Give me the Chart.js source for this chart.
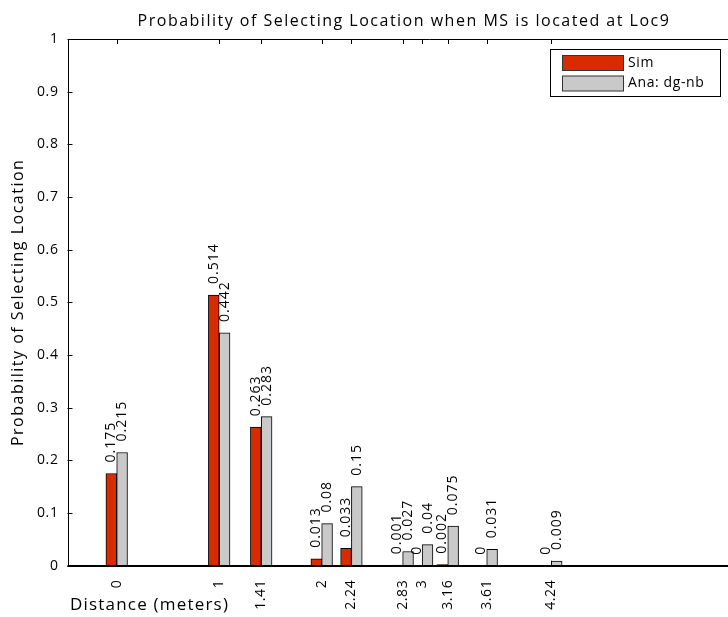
<!DOCTYPE html>
<html>
<head>
<meta charset="utf-8">
<script src="https://cdn.jsdelivr.net/npm/chart.js@4/dist/chart.umd.min.js"></script>
<style>
html,body{margin:0;padding:0;background:#fff;overflow:hidden;width:728px;height:617px;}
#wrap{position:relative;width:800px;height:617px;}
canvas{display:block;}
</style>
</head>
<body>
<div id="wrap"><canvas id="c" width="800" height="617"></canvas></div>
<script>
// bar/tick positions along the distance axis
const positions = [0, 1, 1.41, 2, 2.29, 2.79, 2.98, 3.23, 3.61, 4.24];
const tickLabels = ['0', '1', '1.41', '2', '2.24', '2.83', '3', '3.16', '3.61', '4.24'];
const simValues = [0.175, 0.514, 0.263, 0.013, 0.033, 0.001, 0, 0.002, 0, 0];
const anaValues = [0.215, 0.442, 0.283, 0.08, 0.15, 0.027, 0.04, 0.075, 0.031, 0.009];
const seriesNames = ['Sim', 'Ana: dg-nb'];
const titleText = 'Probability of Selecting Location when MS is located at Loc9';
const xTitle = 'Distance (meters)';
const yTitle = 'Probability of Selecting Location';

const FONT = '"Open Sans", "DejaVu Sans", sans-serif';

const decorPlugin = {
  id: 'decor',
  beforeLayout(chart) { chart.ctx.letterSpacing = '0.6px'; },
  beforeDraw(chart) { chart.ctx.letterSpacing = '0.6px'; },
  beforeDatasetsDraw(chart) {
    const {ctx, chartArea: a, scales: {x, y}} = chart;
    ctx.save();
    ctx.strokeStyle = '#000';
    ctx.lineWidth = 1;
    ctx.beginPath();
    for (let v = 0; v <= 10; v++) {
      const py = Math.round(y.getPixelForValue(v / 10)) + 0.5;
      ctx.moveTo(a.left, py); ctx.lineTo(a.left + 5, py);
    }
    positions.forEach(d => {
      const px = Math.round(x.getPixelForValue(d)) + 0.5;
      ctx.moveTo(px, a.top); ctx.lineTo(px, a.top + 5);
      ctx.moveTo(px, a.bottom); ctx.lineTo(px, a.bottom - 5);
    });
    ctx.stroke();
    ctx.beginPath();
    ctx.moveTo(Math.round(a.left) + 0.5, a.bottom);
    ctx.lineTo(Math.round(a.left) + 0.5, Math.round(a.top) + 0.5);
    ctx.lineTo(a.right, Math.round(a.top) + 0.5);
    ctx.lineTo(a.right, a.bottom);
    ctx.stroke();
    ctx.restore();
  },
  afterDatasetsDraw(chart) {
    const {ctx, chartArea: a} = chart;
    ctx.save();
    ctx.strokeStyle = '#000';
    ctx.lineWidth = 2;
    ctx.beginPath();
    ctx.moveTo(a.left, Math.round(a.bottom));
    ctx.lineTo(a.right, Math.round(a.bottom));
    ctx.stroke();
    // value labels
    ctx.fillStyle = '#000';
    ctx.font = '14px ' + FONT;
    ctx.letterSpacing = '1px';
    ctx.textAlign = 'left';
    ctx.textBaseline = 'middle';
    chart.data.datasets.forEach((ds, di) => {
      const meta = chart.getDatasetMeta(di);
      meta.data.forEach((el, i) => {
        const v = ds.data[i].y;
        ctx.save();
        ctx.translate(el.x, el.y - 11);
        ctx.rotate(-Math.PI / 2);
        ctx.fillText(String(v), 0, 0);
        ctx.restore();
      });
    });
    // title
    ctx.font = '16px ' + FONT;
    ctx.letterSpacing = '1.5px';
    ctx.textAlign = 'center';
    ctx.fillText(titleText, 404, 21);
    // y title
    ctx.save();
    ctx.translate(18, (a.top + a.bottom) / 2);
    ctx.rotate(-Math.PI / 2);
    ctx.letterSpacing = '1.5px';
    ctx.fillText(yTitle, 0, 0);
    ctx.restore();
    // x title
    ctx.font = '17px ' + FONT;
    ctx.letterSpacing = '1.2px';
    ctx.textAlign = 'left';
    ctx.fillText(xTitle, 70, 605);
    // legend
    const lx = 550.5, ly = 49.5, lw = 170, lh = 47;
    ctx.fillStyle = '#fff';
    ctx.fillRect(lx, ly, lw, lh);
    ctx.lineWidth = 1;
    ctx.strokeStyle = '#000';
    ctx.strokeRect(lx, ly, lw, lh);
    ctx.letterSpacing = '0.6px';
    chart.data.datasets.forEach((ds, di) => {
      const sy = 55.5 + di * 20.5;
      ctx.fillStyle = ds.backgroundColor;
      ctx.fillRect(562.5, sy, 61, 15);
      ctx.strokeStyle = '#333';
      ctx.strokeRect(562.5, sy, 61, 15);
      ctx.fillStyle = '#000';
      ctx.font = '14px ' + FONT;
      ctx.textAlign = 'left';
      ctx.fillText(ds.label, 628, sy + 7.5);
    });
    ctx.restore();
  }
};

const mk = (vals) => positions.map((d, i) => ({x: d, y: vals[i]}));

new Chart(document.getElementById('c'), {
  type: 'bar',
  data: {
    datasets: [
      {label: seriesNames[0], data: mk(simValues), backgroundColor: '#d92b00', borderColor: '#000', borderWidth: 1, barThickness: 10.8},
      {label: seriesNames[1], data: mk(anaValues), backgroundColor: '#c9c9c9', borderColor: '#000', borderWidth: 1, barThickness: 10.8}
    ]
  },
  options: {
    responsive: false,
    devicePixelRatio: 1,
    animation: false,
    layout: {padding: {top: 39, right: 10, left: 0, bottom: 0}},
    plugins: {legend: {display: false}, tooltip: {enabled: false}, title: {display: false}},
    scales: {
      x: {
        type: 'linear',
        offset: false,
        min: -0.48,
        max: 6.569,
        grid: {display: false, drawTicks: false},
        border: {display: false},
        afterBuildTicks: (s) => { s.ticks = positions.map(v => ({value: v})); },
        afterFit: (s) => { s.height = 51.3; },
        ticks: {
          autoSkip: false, maxRotation: 90, minRotation: 90, padding: 14,
          color: '#000', font: {family: FONT, size: 14},
          callback: (v, i) => tickLabels[i]
        }
      },
      y: {
        min: 0, max: 1,
        grid: {display: false, drawTicks: false},
        border: {display: false},
        afterFit: (s) => { s.width = 67.5; },
        ticks: {
          stepSize: 0.1, padding: 9, color: '#000', font: {family: FONT, size: 14},
          callback: (v) => String(Math.round(v * 10) / 10)
        }
      }
    }
  },
  plugins: [decorPlugin]
});
</script>
</body>
</html>
